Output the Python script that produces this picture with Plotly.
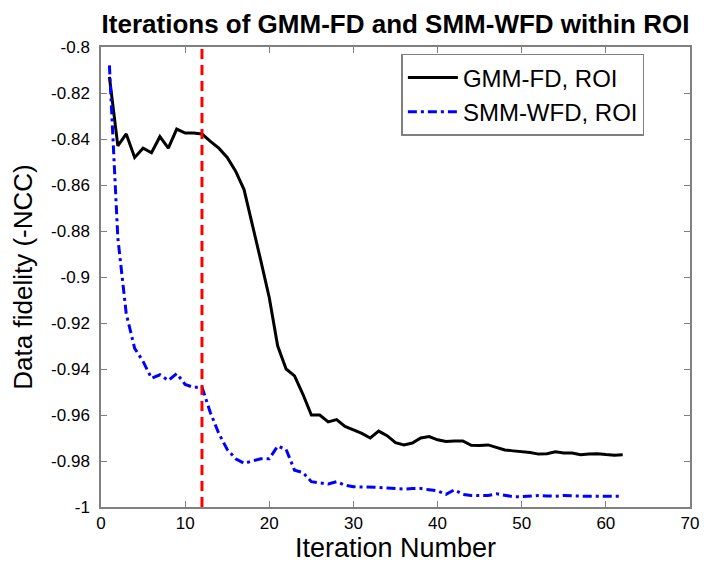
import plotly.graph_objects as go

# Iteration data
iterations = list(range(1, 63))

gmm_fd = [-0.813, -0.843, -0.8378, -0.848, -0.844, -0.846, -0.839, -0.844, -0.8357, -0.8374,
          -0.8374, -0.8378, -0.841, -0.844, -0.848, -0.854, -0.862, -0.877, -0.893, -0.909,
          -0.930, -0.940, -0.943, -0.951, -0.960, -0.960, -0.963, -0.962, -0.965, -0.9665,
          -0.968, -0.970, -0.967, -0.969, -0.972, -0.973, -0.9722, -0.970, -0.9694, -0.9708,
          -0.9715, -0.9713, -0.9713, -0.9732, -0.9733, -0.973, -0.974, -0.9752, -0.9756, -0.9758,
          -0.9763, -0.977, -0.9768, -0.976, -0.9765, -0.9765, -0.9773, -0.977, -0.9768, -0.9772,
          -0.9775, -0.9773]

smm_wfd = [-0.808, -0.883, -0.916, -0.931, -0.9367, -0.944, -0.9425, -0.945, -0.942, -0.9467,
           -0.948, -0.9478, -0.959, -0.968, -0.975, -0.979, -0.981, -0.980, -0.979, -0.979,
           -0.9735, -0.975, -0.984, -0.985, -0.989, -0.9895, -0.990, -0.989, -0.9905, -0.9912,
           -0.9912, -0.9913, -0.9915, -0.9917, -0.992, -0.9922, -0.992, -0.992, -0.9925, -0.993,
           -0.9945, -0.9925, -0.9945, -0.995, -0.995, -0.995, -0.9943, -0.995, -0.9955, -0.9955,
           -0.9952, -0.995, -0.9952, -0.9953, -0.995, -0.9953, -0.9953, -0.9953, -0.9952, -0.9953,
           -0.9953, -0.9953]

switch_iter = 12

y_ticks = [-1, -0.98, -0.96, -0.94, -0.92, -0.9, -0.88, -0.86, -0.84, -0.82, -0.8]
y_labels = ['-1', '-0.98', '-0.96', '-0.94', '-0.92', '-0.9', '-0.88', '-0.86', '-0.84', '-0.82', '-0.8']
x_ticks = [0, 10, 20, 30, 40, 50, 60, 70]

fig = go.Figure()

fig.add_trace(go.Scatter(x=iterations, y=gmm_fd, mode='lines', name='GMM-FD, ROI',
                         line=dict(color='black', width=3)))
fig.add_trace(go.Scatter(x=iterations, y=smm_wfd, mode='lines', name='SMM-WFD, ROI',
                         line=dict(color='#0000ff', width=3, dash='9px,4px,3px,4px')))

# red dashed line marking the switch iteration
fig.add_shape(type='line', x0=switch_iter, x1=switch_iter, y0=0, y1=1,
              xref='x', yref='paper', line=dict(color='#ff0000', width=3, dash='10px,6px'))

axis_common = dict(showgrid=False, zeroline=False, showline=True, linecolor='#808080',
                   linewidth=1.5, mirror='ticks', ticks='inside', ticklen=6,
                   tickcolor='#808080', tickfont=dict(size=17, color='black'))

fig.update_xaxes(range=[0, 70], tickvals=x_ticks, ticklabelstandoff=0,
                 title=dict(text='Iteration Number', font=dict(size=27, color='black'), standoff=4),
                 **axis_common)
fig.update_yaxes(range=[-1, -0.8], tickvals=y_ticks, ticktext=y_labels, ticklabelstandoff=6,
                 title=dict(text='Data fidelity (-NCC)', font=dict(size=26, color='black'), standoff=14),
                 **axis_common)

fig.update_layout(
    width=709, height=568,
    font=dict(family='Liberation Sans, Arial, sans-serif', color='black'),
    title=dict(text='<b>Iterations of GMM-FD and SMM-WFD within ROI</b>',
               font=dict(family='Liberation Sans, Arial', size=26),
               x=0.5, xref='paper', xanchor='center', y=0.972, yanchor='middle'),
    plot_bgcolor='white', paper_bgcolor='white',
    margin=dict(l=93, r=27, t=39, b=69),
    showlegend=True,
    legend=dict(x=0.51, y=0.985, xanchor='left', yanchor='top',
                bordercolor='#808080', borderwidth=1.5, bgcolor='white',
                font=dict(size=24, color='black'), itemwidth=50, tracegroupgap=0),
)

fig.write_html("out.html")
